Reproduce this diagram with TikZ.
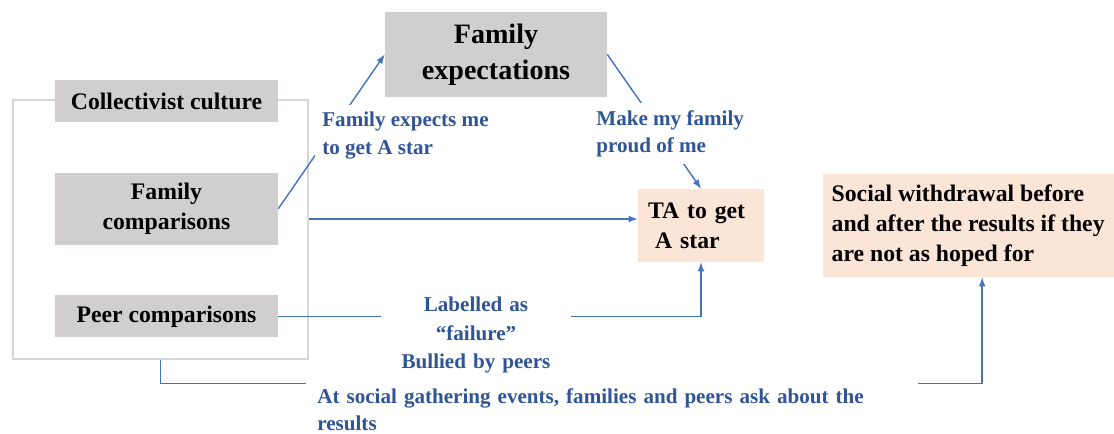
\documentclass[tikz,border=0pt]{standalone}
\usepackage{fontspec}
\setmainfont{Liberation Serif}
\usepackage{tikz}
\usetikzlibrary{shapes}
\usetikzlibrary{positioning}
\definecolor{boxgray}{HTML}{D0CECE}
\definecolor{boxpeach}{HTML}{FBE5D6}
\definecolor{framegray}{HTML}{D6D6D6}
\definecolor{linkblue}{HTML}{4472C4}
\definecolor{textblue}{HTML}{2F5597}
\newcommand{\boxfont}{\fontsize{13.5}{17}\selectfont\bfseries}
\newcommand{\notefont}{\fontsize{12}{15.5}\selectfont\bfseries}
\tikzstyle{factor}=[rectangle,fill=boxgray,align=center,font=\boxfont,minimum width=4.46cm]
\tikzstyle{outcome}=[rectangle,fill=boxpeach,align=left,font=\boxfont]
\tikzstyle{note}=[rectangle,fill=white,text=textblue,font=\notefont,inner sep=0.14cm]
\tikzstyle{groupframe}=[rectangle,draw=framegray,line width=0.8pt]

\begin{document}
\begin{tikzpicture}
	[x=0.02cm,y=-0.02cm,node distance=1cm,>=latex]
	\tikzstyle{arrow}=[->,draw=linkblue,line width=0.8pt];
	\useasboundingbox (0,0) rectangle (1114,433);
	\node (group) [groupframe,minimum width=5.9cm,minimum height=5.18cm] at (160.5,229.5) {};
	\node (cc) [factor,minimum height=0.84cm] at (166.5,101) {Collectivist culture};
	\node (fc) [factor,minimum height=1.44cm,below=of cc] {Family\\comparisons};
	\node (pc) [factor,minimum height=0.84cm,below=of fc] {Peer comparisons};
	\node (fe) [factor,minimum width=4.44cm,minimum height=1.7cm,font=\fontsize{16}{20.5}\selectfont\bfseries] at (496,54.5) {Family\\expectations};
	\node (ta) [outcome,text width=2.12cm,inner xsep=0.2cm,minimum height=1.46cm] at (701,225.5) {TA to get\\\hspace*{0.3em}A star};
	\node (sw) [outcome,minimum width=5.82cm,minimum height=2.06cm,right=1.16cm of ta] {Social withdrawal before\\and after the results if they\\are not as hoped for};
	\coordinate (fcout) at ([yshift=0.21cm]group.east);
	\draw[arrow] (fc.east) -- (fe.west);
	\draw[arrow] (fe.east) -- (ta.north);
	\draw[arrow] (fcout) -- (fcout -| ta.west);
	\draw[arrow] (pc.east) -| (ta.south);
	\draw[arrow] (group.south) -- ++(0,24) -| ([xshift=0.28cm]sw.south);
	% labels on the links
	\node (expect) [note,align=left,anchor=north west] at (315,105) {Family expects me\\to get A star};
	\node (proud) [note,align=left,anchor=north west] at (589,103) {Make my family\\proud of me};
	\node (bully) [note,align=center,text width=3.52cm,anchor=north,font=\fontsize{12}{16.2}\selectfont\bfseries] at (476,290) {Labelled as\\“failure”\\Bullied by peers};
	\node (gather) [note,align=left,text width=11.8cm,inner xsep=0.22cm,inner ysep=0.2cm,anchor=north west,font=\fontsize{12}{15.8}\selectfont\bfseries] at (306,378) {At social gathering events, families and peers ask about the\\results};
\end{tikzpicture}
\end{document}
